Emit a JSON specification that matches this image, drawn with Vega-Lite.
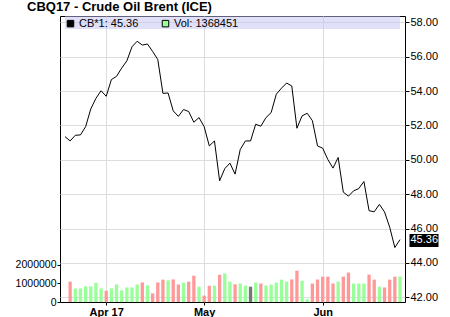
{
  "$schema": "https://vega.github.io/schema/vega-lite/v6.json",
  "width": 345,
  "height": 286,
  "autosize": "none",
  "padding": {"left": 60, "top": 16, "right": 45, "bottom": 15},
  "background": "white",
  "title": {"text": "CBQ17 - Crude Oil Brent (ICE)", "anchor": "start", "frame": "group", "dx": -33, "offset": 2, "fontSize": 13, "fontWeight": "bold", "font": "Liberation Sans", "color": "black"},
  "config": {
    "view": {"stroke": "black", "strokeWidth": 1},
    "axis": {"labelFont": "Liberation Sans", "labelColor": "black", "labelFontSize": 11, "tickColor": "black", "domain": false, "gridColor": "#dddddd", "gridWidth": 1, "title": null},
    "legend": {"labelFont": "Liberation Sans"}
  },
  "datasets": {
    "px": [
      {"i": -1, "date": "2017-03-22", "close": 51.35, "vol": null, "dir": "up"},
      {"i": 0, "date": "2017-03-23", "close": 51.10, "vol": 1090000, "dir": "down"},
      {"i": 1, "date": "2017-03-24", "close": 51.43, "vol": 720000, "dir": "up"},
      {"i": 2, "date": "2017-03-27", "close": 51.45, "vol": 730000, "dir": "up"},
      {"i": 3, "date": "2017-03-28", "close": 51.93, "vol": 840000, "dir": "up"},
      {"i": 4, "date": "2017-03-29", "close": 52.96, "vol": 840000, "dir": "up"},
      {"i": 5, "date": "2017-03-30", "close": 53.58, "vol": 1030000, "dir": "up"},
      {"i": 6, "date": "2017-03-31", "close": 54.02, "vol": 730000, "dir": "up"},
      {"i": 7, "date": "2017-04-03", "close": 53.70, "vol": 600000, "dir": "down"},
      {"i": 8, "date": "2017-04-04", "close": 54.67, "vol": 730000, "dir": "up"},
      {"i": 9, "date": "2017-04-05", "close": 54.86, "vol": 940000, "dir": "up"},
      {"i": 10, "date": "2017-04-06", "close": 55.34, "vol": 620000, "dir": "up"},
      {"i": 11, "date": "2017-04-07", "close": 55.76, "vol": 780000, "dir": "up"},
      {"i": 12, "date": "2017-04-10", "close": 56.58, "vol": 780000, "dir": "up"},
      {"i": 13, "date": "2017-04-11", "close": 56.90, "vol": 940000, "dir": "up"},
      {"i": 14, "date": "2017-04-12", "close": 56.68, "vol": 1050000, "dir": "down"},
      {"i": 15, "date": "2017-04-13", "close": 56.74, "vol": 890000, "dir": "up"},
      {"i": 16, "date": "2017-04-17", "close": 56.31, "vol": 460000, "dir": "down"},
      {"i": 17, "date": "2017-04-18", "close": 55.84, "vol": 1050000, "dir": "down"},
      {"i": 18, "date": "2017-04-19", "close": 53.87, "vol": 1200000, "dir": "down"},
      {"i": 19, "date": "2017-04-20", "close": 53.89, "vol": 1160000, "dir": "up"},
      {"i": 20, "date": "2017-04-21", "close": 52.85, "vol": 1210000, "dir": "down"},
      {"i": 21, "date": "2017-04-24", "close": 52.53, "vol": 940000, "dir": "down"},
      {"i": 22, "date": "2017-04-25", "close": 52.93, "vol": 1030000, "dir": "up"},
      {"i": 23, "date": "2017-04-26", "close": 52.81, "vol": 1090000, "dir": "down"},
      {"i": 24, "date": "2017-04-27", "close": 52.19, "vol": 1410000, "dir": "down"},
      {"i": 25, "date": "2017-04-28", "close": 52.46, "vol": 820000, "dir": "up"},
      {"i": 26, "date": "2017-05-01", "close": 51.93, "vol": 340000, "dir": "down"},
      {"i": 27, "date": "2017-05-02", "close": 50.81, "vol": 870000, "dir": "down"},
      {"i": 28, "date": "2017-05-03", "close": 51.10, "vol": 870000, "dir": "up"},
      {"i": 29, "date": "2017-05-04", "close": 48.78, "vol": 1460000, "dir": "down"},
      {"i": 30, "date": "2017-05-05", "close": 49.49, "vol": 1530000, "dir": "up"},
      {"i": 31, "date": "2017-05-08", "close": 49.81, "vol": 1090000, "dir": "up"},
      {"i": 32, "date": "2017-05-09", "close": 49.17, "vol": 950000, "dir": "down"},
      {"i": 33, "date": "2017-05-10", "close": 50.60, "vol": 990000, "dir": "up"},
      {"i": 34, "date": "2017-05-11", "close": 51.10, "vol": 870000, "dir": "up"},
      {"i": 35, "date": "2017-05-12", "close": 51.10, "vol": 820000, "dir": "flat"},
      {"i": 36, "date": "2017-05-15", "close": 52.07, "vol": 1040000, "dir": "up"},
      {"i": 37, "date": "2017-05-16", "close": 51.96, "vol": 990000, "dir": "down"},
      {"i": 38, "date": "2017-05-17", "close": 52.46, "vol": 880000, "dir": "up"},
      {"i": 39, "date": "2017-05-18", "close": 52.75, "vol": 930000, "dir": "up"},
      {"i": 40, "date": "2017-05-19", "close": 53.82, "vol": 1040000, "dir": "up"},
      {"i": 41, "date": "2017-05-22", "close": 54.17, "vol": 1200000, "dir": "up"},
      {"i": 42, "date": "2017-05-23", "close": 54.47, "vol": 1090000, "dir": "up"},
      {"i": 43, "date": "2017-05-24", "close": 54.30, "vol": 1210000, "dir": "down"},
      {"i": 44, "date": "2017-05-25", "close": 51.84, "vol": 1680000, "dir": "down"},
      {"i": 45, "date": "2017-05-26", "close": 52.56, "vol": 1140000, "dir": "up"},
      {"i": 46, "date": "2017-05-29", "close": 52.71, "vol": 150000, "dir": "up"},
      {"i": 47, "date": "2017-05-30", "close": 52.28, "vol": 990000, "dir": "down"},
      {"i": 48, "date": "2017-05-31", "close": 50.81, "vol": 1200000, "dir": "down"},
      {"i": 49, "date": "2017-06-01", "close": 50.68, "vol": 1360000, "dir": "down"},
      {"i": 50, "date": "2017-06-02", "close": 50.02, "vol": 1360000, "dir": "down"},
      {"i": 51, "date": "2017-06-05", "close": 49.52, "vol": 990000, "dir": "down"},
      {"i": 52, "date": "2017-06-06", "close": 50.14, "vol": 1090000, "dir": "up"},
      {"i": 53, "date": "2017-06-07", "close": 48.12, "vol": 1360000, "dir": "down"},
      {"i": 54, "date": "2017-06-08", "close": 47.89, "vol": 1580000, "dir": "down"},
      {"i": 55, "date": "2017-06-09", "close": 48.20, "vol": 990000, "dir": "up"},
      {"i": 56, "date": "2017-06-12", "close": 48.33, "vol": 990000, "dir": "up"},
      {"i": 57, "date": "2017-06-13", "close": 48.74, "vol": 990000, "dir": "up"},
      {"i": 58, "date": "2017-06-14", "close": 47.04, "vol": 1470000, "dir": "down"},
      {"i": 59, "date": "2017-06-15", "close": 46.98, "vol": 1200000, "dir": "down"},
      {"i": 60, "date": "2017-06-16", "close": 47.41, "vol": 820000, "dir": "up"},
      {"i": 61, "date": "2017-06-19", "close": 46.97, "vol": 780000, "dir": "down"},
      {"i": 62, "date": "2017-06-20", "close": 46.08, "vol": 1200000, "dir": "down"},
      {"i": 63, "date": "2017-06-21", "close": 44.90, "vol": 1360000, "dir": "down"},
      {"i": 64, "date": "2017-06-22", "close": 45.36, "vol": 1368451, "dir": "up"}
    ],
    "lg": [{"s": "CB*1: 45.36"}, {"s": "Vol: 1368451"}]
  },
  "layer": [
    {
      "data": {"name": "px"},
      "mark": {"type": "bar", "size": 3.3, "clip": true},
      "encoding": {
        "x": {"field": "i", "type": "quantitative", "scale": {"domain": [-1, 64], "nice": false, "zero": false},
              "axis": {"values": [7, 26, 49], "labelExpr": "datum.value == 7 ? 'Apr 17' : datum.value == 26 ? 'May' : 'Jun'", "grid": true, "tickSize": 3, "labelPadding": 1, "labelFontWeight": "bold", "labelFontSize": 11, "labelFlush": false, "labelOverlap": false}},
        "y": {"field": "vol", "type": "quantitative", "scale": {"domain": [0, 15330000], "nice": false},
              "axis": {"orient": "left", "values": [0, 1000000, 2000000], "format": "d", "grid": false, "tickSize": 3, "labelPadding": 1, "labelFontSize": 10.5, "labelFlush": false}},
        "color": {"field": "dir", "type": "nominal", "scale": {"domain": ["up", "down", "flat"], "range": ["#99ff99", "#ff9999", "#777777"]}, "legend": null}
      }
    },
    {
      "data": {"values": [{}]},
      "mark": {"type": "rect", "fill": "#c1c1f1", "opacity": 0.5},
      "encoding": {
        "x": {"datum": -1, "type": "quantitative", "scale": {"domain": [-1, 64], "nice": false, "zero": false}},
        "x2": {"datum": 64},
        "y": {"datum": 58.37, "type": "quantitative", "scale": {"domain": [41.73, 58.37], "nice": false, "zero": false},
              "axis": {"orient": "right", "values": [42, 44, 46, 48, 50, 52, 54, 56, 58], "format": ".2f", "grid": true, "tickSize": 4, "labelPadding": 1, "labelFlush": false}},
        "y2": {"datum": 57.61}
      }
    },
    {
      "data": {"name": "px"},
      "mark": {"type": "line", "color": "black", "strokeWidth": 1, "clip": true},
      "encoding": {
        "x": {"field": "i", "type": "quantitative", "scale": {"domain": [-1, 64], "nice": false, "zero": false}},
        "y": {"field": "close", "type": "quantitative", "scale": {"domain": [41.73, 58.37], "nice": false, "zero": false},
              "axis": {"orient": "right", "values": [45.36], "format": ".2f", "grid": false, "offset": 4, "tickSize": 29, "tickWidth": 13, "labelPadding": -28, "labelColor": "white", "tickColor": "black", "labelFlush": false}}
      }
    },
    {
      "data": {"name": "lg"},
      "mark": {"type": "point", "filled": true, "shape": "square", "opacity": 0},
      "encoding": {
        "color": {"field": "s", "type": "nominal", "scale": {"domain": ["CB*1: 45.36", "Vol: 1368451"], "range": ["black", "#99ff99"]},
                  "legend": {"title": null, "orient": "top-left", "direction": "horizontal", "symbolType": "square", "symbolSize": 42, "symbolStrokeColor": "black", "symbolStrokeWidth": 1, "labelFontSize": 11, "labelColor": "black", "offset": 2, "padding": 0, "symbolOffset": 3, "labelOffset": 3, "columnPadding": 18}}
      }
    }
  ],
  "resolve": {"scale": {"y": "independent", "color": "independent"}, "axis": {"y": "independent"}}
}
